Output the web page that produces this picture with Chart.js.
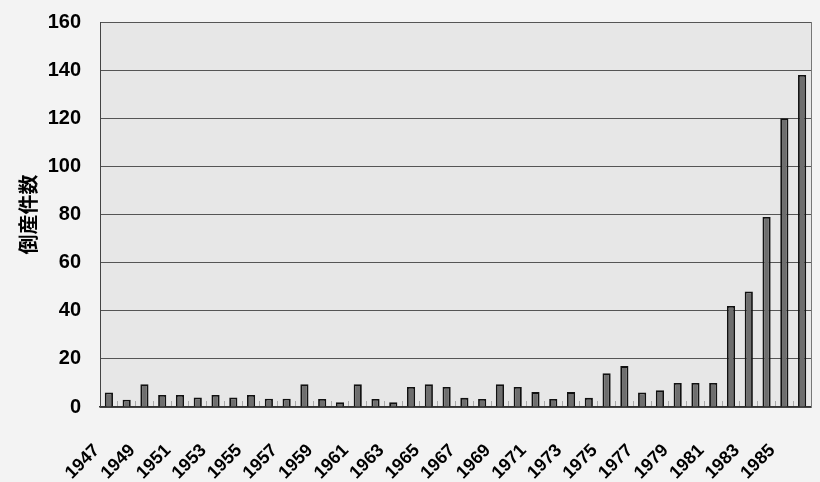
<!DOCTYPE html>
<html><head><meta charset="utf-8">
<script src="https://cdn.jsdelivr.net/npm/chart.js@4.4.1/dist/chart.umd.min.js"></script>
<style>html,body{margin:0;padding:0;background:#f3f3f3;}#wrap{width:820px;height:482px;}</style>
</head><body><div id="wrap"><canvas id="c" width="820" height="482"></canvas></div>
<script>
const years = [1947,1948,1949,1950,1951,1952,1953,1954,1955,1956,1957,1958,1959,1960,1961,1962,1963,1964,1965,1966,1967,1968,1969,1970,1971,1972,1973,1974,1975,1976,1977,1978,1979,1980,1981,1982,1983,1984,1985,1986];
const bankruptcies = [6,3,9.5,5,5,4,5,4,5,3.4,3.4,9.5,3.3,2,9.5,3.3,2,8.3,9.5,8.3,3.8,3.3,9.5,8.3,6.2,3.3,6.2,3.8,14,17,6,7,10,10,10,42,48,79,120,138];
const yTicks = [0,20,40,60,80,100,120,140,160];
const yTitle = '倒産件数';

const bgPlugin = {
  id: 'bg',
  beforeDraw(chart) {
    const {ctx, chartArea: a} = chart;
    ctx.save();
    ctx.fillStyle = '#f3f3f3';
    ctx.fillRect(0, 0, chart.width, chart.height);
    ctx.fillStyle = '#e7e7e7';
    ctx.fillRect(a.left, a.top, a.right - a.left, a.bottom - a.top);
    ctx.restore();
  },
  afterDraw(chart) {
    const {ctx, chartArea: a} = chart;
    ctx.save();
    ctx.strokeStyle = '#777';
    ctx.lineWidth = 1;
    ctx.beginPath();
    ctx.moveTo(a.right + 0.5, a.top);
    ctx.lineTo(a.right + 0.5, a.bottom);
    ctx.stroke();
    ctx.restore();
  }
};

new Chart(document.getElementById('c'), {
  type: 'bar',
  data: {
    labels: years.map(String),
    datasets: [{
      data: bankruptcies,
      backgroundColor: '#6e6e6e',
      borderColor: '#111',
      borderWidth: 1.8,
      categoryPercentage: 1,
      barPercentage: 0.46
    }]
  },
  options: {
    responsive: false,
    animation: false,
    devicePixelRatio: 1,
    layout: { padding: { top: 22, right: 9, left: 0, bottom: 0 } },
    plugins: { legend: { display: false }, tooltip: { enabled: false } },
    scales: {
      x: {
        afterFit: (s) => { s.height = 75; s.paddingLeft = 0; s.paddingRight = 0; },
        grid: { drawOnChartArea: false, drawTicks: true, tickLength: -6, color: '#a8a8a8', offset: true },
        border: { display: true, color: '#333', width: 1.5 },
        ticks: {
          autoSkip: false, maxRotation: 45, minRotation: 45, padding: 39, labelOffset: -12,
          color: '#000', font: { family: 'Liberation Sans', weight: 'bold', size: 18 },
          callback: (v, i) => (i % 2 === 0 ? years[i] : '')
        }
      },
      y: {
        min: 0, max: 160,
        afterFit: (s) => { s.width = 100; s.paddingTop = 0; s.paddingBottom = 0; },
        afterBuildTicks: (s) => { s.ticks = yTicks.map(v => ({ value: v })); },
        grid: { color: '#555', lineWidth: 1, drawTicks: false },
        border: { display: true, color: '#444', width: 1 },
        ticks: { padding: 19, color: '#000', font: { family: 'Liberation Sans', weight: 'bold', size: 20 } },
        title: { display: true, text: yTitle, color: '#000', padding: { top: 16, bottom: 0 },
          font: { family: 'Noto Sans CJK JP', weight: 'bold', size: 20 } }
      }
    }
  },
  plugins: [bgPlugin]
});
</script></body></html>
